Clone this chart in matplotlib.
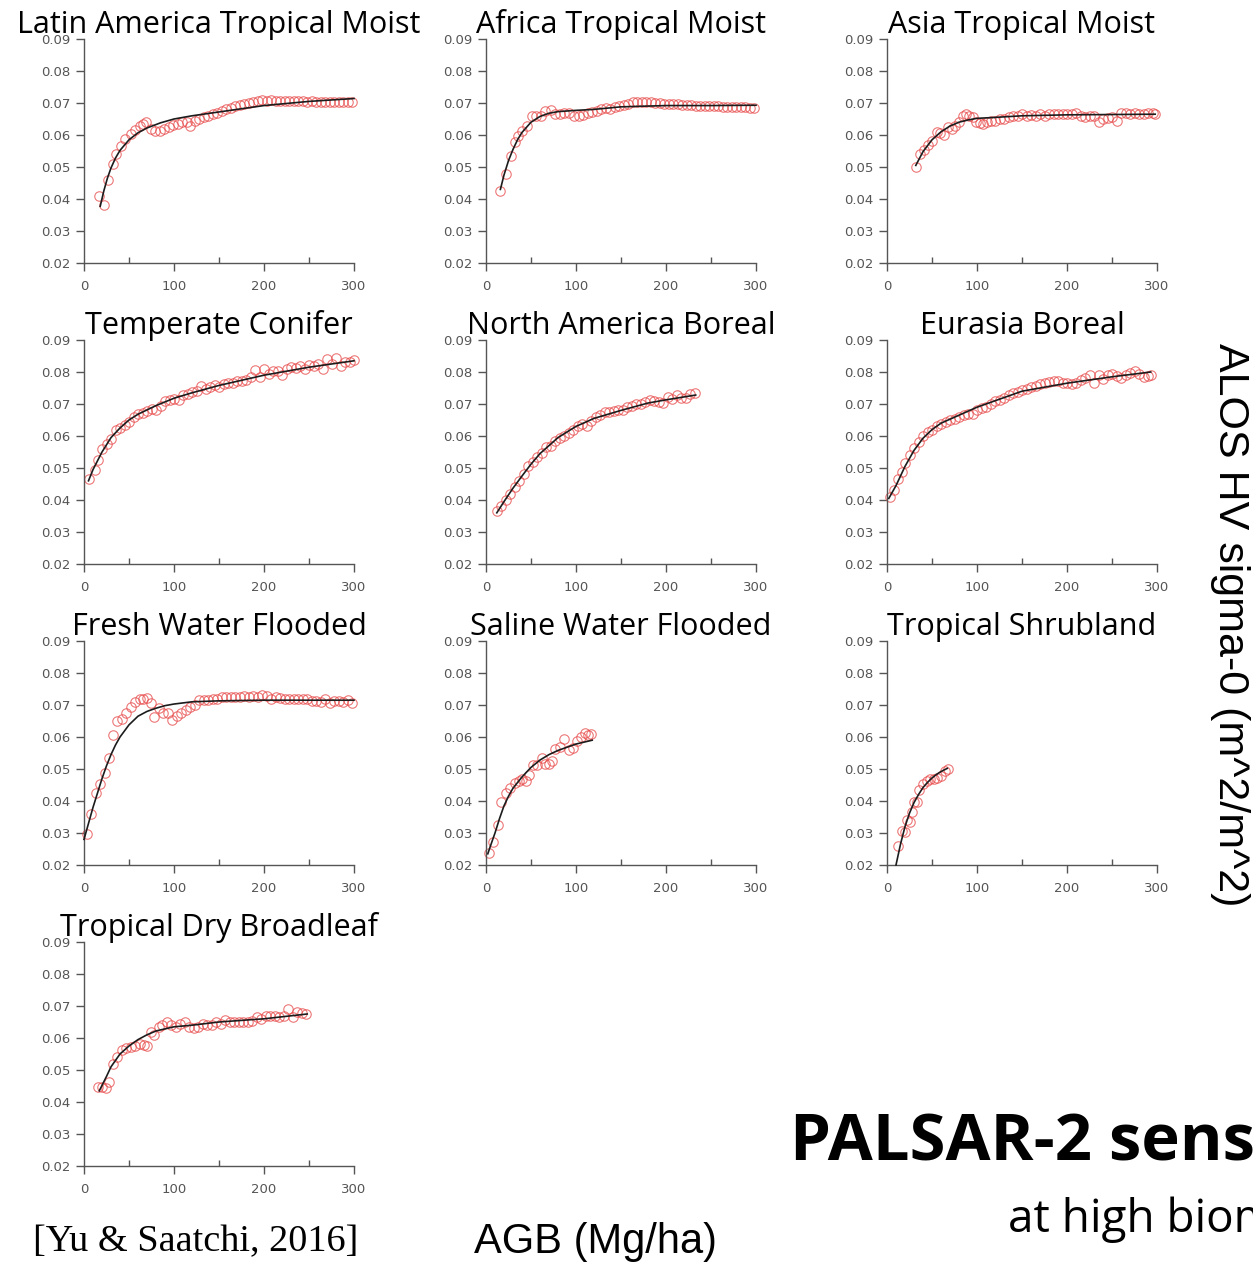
import matplotlib
matplotlib.use("Agg")
import matplotlib.pyplot as plt
from matplotlib.ticker import MultipleLocator

# ---- scatter points (AGB, HV) and fitted curves ----
latam_agb = [17, 22, 27, 32, 36, 41, 46, 52, 57, 62, 66, 69, 74, 79, 84, 89, 94, 99, 104, 109,
             114, 118, 123, 128, 133, 138, 143, 148, 153, 158, 163, 168, 173, 178, 183, 188, 193, 198, 203, 208,
             213, 218, 223, 228, 233, 238, 243, 248, 253, 258, 263, 268, 273, 278, 283, 288, 293, 298]
latam_hv = [0.041, 0.038, 0.046, 0.051, 0.054, 0.0565, 0.0588, 0.0603, 0.0615, 0.0629,
            0.0635, 0.0642, 0.062, 0.0611, 0.0612, 0.0618, 0.0625, 0.063, 0.0635, 0.064,
            0.064, 0.0627, 0.0643, 0.065, 0.0655, 0.066, 0.0665, 0.067, 0.0675, 0.068,
            0.0685, 0.069, 0.0693, 0.0697, 0.070, 0.0703, 0.0707, 0.0708, 0.0707, 0.0708,
            0.0707, 0.0706, 0.0707, 0.0706, 0.0705, 0.0706, 0.0705, 0.0704, 0.0705, 0.0703,
            0.0704, 0.0703, 0.0704, 0.0702, 0.0703, 0.0702, 0.0703, 0.0703]
latam_fit_agb = [18, 22, 26, 30, 35, 40, 50, 60, 70, 85, 100, 120, 150, 200, 250, 300]
latam_fit_hv = [0.0377, 0.0425, 0.0465, 0.0497, 0.0528, 0.0552, 0.0585, 0.0607, 0.0622, 0.0638,
                0.0650, 0.0660, 0.0672, 0.0692, 0.0705, 0.0714]

africa_agb = [16, 22, 28, 32, 36, 40, 46, 51, 56, 61, 66, 72, 77, 82, 87, 92, 98, 103, 108, 113,
              118, 123, 128, 133, 138, 143, 148, 153, 158, 163, 168, 173, 178, 183, 188, 193, 198, 203, 208, 213,
              218, 223, 228, 233, 238, 243, 248, 253, 258, 263, 268, 273, 278, 283, 288, 293, 298]
africa_hv = [0.0424, 0.0479, 0.0533, 0.0577, 0.0596, 0.0611, 0.0627, 0.0658, 0.0658, 0.066,
             0.0674, 0.0679, 0.0666, 0.0665, 0.0668, 0.067, 0.0658, 0.066, 0.0662, 0.0668,
             0.0672, 0.0675, 0.068, 0.0683, 0.0682, 0.0688, 0.069, 0.0695, 0.0698, 0.0702,
             0.0702, 0.0703, 0.0703, 0.0702, 0.070, 0.070, 0.0698, 0.0697, 0.0697, 0.0697,
             0.0695, 0.0695, 0.0693, 0.0692, 0.069, 0.069, 0.069, 0.069, 0.069, 0.0688,
             0.0688, 0.0687, 0.0687, 0.0686, 0.0686, 0.0685, 0.0684]
africa_fit_agb = [16, 20, 25, 30, 35, 40, 50, 60, 70, 80, 100, 120, 150, 200, 250, 300]
africa_fit_hv = [0.043, 0.0475, 0.052, 0.0555, 0.0585, 0.0608, 0.064, 0.0658, 0.0668, 0.0673,
                 0.0677, 0.068, 0.0688, 0.0692, 0.0692, 0.0693]

asia_agb = [32, 37, 41, 45, 50, 55, 59, 63, 68, 72, 76, 80, 84, 88, 91, 95, 99, 103, 107, 111,
            115, 120, 125, 130, 135, 140, 145, 150, 155, 160, 165, 170, 175, 180, 185, 190, 195, 200, 205, 210,
            215, 220, 225, 230, 235, 240, 245, 250, 255, 260, 265, 270, 275, 280, 285, 290, 295, 298]
asia_hv = [0.050, 0.054, 0.0554, 0.057, 0.058, 0.0608, 0.0605, 0.060, 0.0625, 0.0618,
           0.0628, 0.064, 0.066, 0.0665, 0.066, 0.0655, 0.064, 0.0638, 0.0635, 0.064,
           0.0645, 0.0645, 0.065, 0.065, 0.0655, 0.0658, 0.066, 0.0665, 0.066, 0.0662,
           0.066, 0.0667, 0.066, 0.0665, 0.0665, 0.0667, 0.0665, 0.0667, 0.0665, 0.0668,
           0.066, 0.0655, 0.0658, 0.066, 0.0642, 0.065, 0.0652, 0.0655, 0.0645, 0.067,
           0.067, 0.0665, 0.0668, 0.0665, 0.0665, 0.0668, 0.0668, 0.0665]
asia_fit_agb = [32, 40, 50, 60, 70, 80, 90, 100, 120, 150, 200, 250, 298]
asia_fit_hv = [0.0505, 0.0548, 0.0585, 0.061, 0.0628, 0.064, 0.0647, 0.0652, 0.0655, 0.066,
               0.0663, 0.0664, 0.0665]

conifer_agb = [6, 12, 16, 20, 25, 30, 35, 40, 45, 50, 55, 60, 65, 70, 75, 80, 85, 90, 95, 100,
               105, 110, 115, 120, 125, 130, 135, 140, 145, 150, 155, 160, 165, 170, 175, 180, 185, 190, 195, 200,
               205, 210, 215, 220, 225, 230, 235, 240, 245, 250, 255, 260, 265, 270, 275, 280, 285, 290, 295, 300]
conifer_hv = [0.0466, 0.0493, 0.0526, 0.056, 0.0575, 0.059, 0.062, 0.0625, 0.0635, 0.0645,
              0.066, 0.0668, 0.0672, 0.0678, 0.0683, 0.068, 0.0695, 0.0708, 0.0712, 0.0715,
              0.0712, 0.0728, 0.0732, 0.0737, 0.074, 0.0755, 0.0748, 0.0752, 0.0758, 0.0752,
              0.0762, 0.0765, 0.0765, 0.0772, 0.0772, 0.0775, 0.0785, 0.0805, 0.0785, 0.0808,
              0.0795, 0.0802, 0.0802, 0.0792, 0.0808, 0.0815, 0.0812, 0.0818, 0.0808, 0.0822,
              0.0818, 0.0825, 0.081, 0.0842, 0.0825, 0.0845, 0.0818, 0.083, 0.0832, 0.0838]
conifer_fit_agb = [5, 10, 20, 30, 40, 50, 60, 80, 100, 120, 150, 200, 250, 300]
conifer_fit_hv = [0.046, 0.0495, 0.055, 0.0595, 0.0625, 0.065, 0.0668, 0.0695, 0.0718, 0.0735,
                  0.0758, 0.079, 0.0815, 0.0835]

naboreal_agb = [12, 17, 22, 27, 32, 37, 42, 47, 52, 57, 62, 67, 72, 77, 82, 87, 92, 97, 102, 107,
                112, 117, 122, 127, 132, 137, 142, 147, 152, 157, 162, 167, 172, 177, 182, 187, 192, 197, 202, 207,
                212, 217, 222, 227, 232]
naboreal_hv = [0.0365, 0.038, 0.040, 0.042, 0.044, 0.046, 0.048, 0.0505, 0.052, 0.0535,
               0.0548, 0.0565, 0.057, 0.0585, 0.0595, 0.060, 0.061, 0.062, 0.0632, 0.0638,
               0.063, 0.0648, 0.0658, 0.0665, 0.0675, 0.0675, 0.0678, 0.0682, 0.068, 0.069,
               0.0695, 0.070, 0.070, 0.0705, 0.0712, 0.0708, 0.0705, 0.0702, 0.0722, 0.0715,
               0.0728, 0.072, 0.0718, 0.0732, 0.0735]
naboreal_fit_agb = [12, 20, 30, 40, 50, 60, 80, 100, 120, 150, 180, 200, 233]
naboreal_fit_hv = [0.036, 0.0395, 0.0437, 0.0475, 0.0512, 0.0545, 0.0595, 0.063, 0.0655, 0.068,
                   0.0703, 0.0713, 0.0728]

eurasia_agb = [3, 8, 12, 17, 20, 25, 30, 35, 40, 45, 50, 55, 60, 65, 70, 75, 80, 85, 90, 95,
               100, 105, 110, 115, 120, 125, 130, 135, 140, 145, 150, 155, 160, 165, 170, 175, 180, 185, 190, 195,
               200, 205, 210, 215, 220, 225, 230, 235, 240, 245, 250, 255, 260, 265, 270, 275, 280, 285, 290, 293]
eurasia_hv = [0.041, 0.043, 0.0465, 0.0488, 0.0515, 0.054, 0.0562, 0.058, 0.060, 0.0612,
              0.062, 0.063, 0.0638, 0.0645, 0.065, 0.0652, 0.0658, 0.0665, 0.0668, 0.067,
              0.0682, 0.0688, 0.0692, 0.070, 0.0708, 0.0712, 0.072, 0.0728, 0.0735, 0.0738,
              0.0745, 0.0748, 0.0752, 0.0755, 0.0762, 0.0765, 0.0768, 0.0772, 0.0772, 0.0765,
              0.0765, 0.0762, 0.0765, 0.0775, 0.0782, 0.079, 0.0765, 0.079, 0.0778, 0.0792,
              0.0795, 0.0788, 0.0782, 0.0792, 0.0798, 0.0802, 0.0795, 0.0785, 0.0788, 0.0792]
eurasia_fit_agb = [2, 10, 20, 30, 40, 50, 60, 80, 100, 120, 150, 200, 250, 293]
eurasia_fit_hv = [0.0405, 0.0445, 0.0505, 0.0555, 0.0593, 0.062, 0.064, 0.0665, 0.069, 0.071,
                  0.074, 0.0765, 0.0785, 0.080]

fresh_agb = [3, 8, 13, 18, 23, 28, 32, 37, 42, 47, 52, 57, 62, 66, 70, 74, 78, 83, 88, 93,
             98, 103, 108, 113, 118, 123, 128, 133, 138, 143, 148, 153, 158, 163, 168, 173, 178, 183, 188, 193,
             198, 203, 208, 213, 218, 223, 228, 233, 238, 243, 248, 253, 258, 263, 268, 273, 278, 283, 288, 293,
             298]
fresh_hv = [0.0297, 0.0358, 0.0424, 0.0453, 0.0489, 0.0534, 0.0607, 0.0651, 0.0655, 0.0674,
            0.0695, 0.071, 0.0718, 0.072, 0.0722, 0.0705, 0.0664, 0.069, 0.0675, 0.0675,
            0.0653, 0.0665, 0.0675, 0.0685, 0.0695, 0.070, 0.0715, 0.0715, 0.0715, 0.0718,
            0.072, 0.0725, 0.0725, 0.0725, 0.0725, 0.0725, 0.0728, 0.0725, 0.0728, 0.0725,
            0.073, 0.0728, 0.072, 0.0725, 0.0722, 0.072, 0.072, 0.0718, 0.0718, 0.072,
            0.0718, 0.0712, 0.0712, 0.0708, 0.0718, 0.0705, 0.0712, 0.0712, 0.071, 0.0715,
            0.0705]
fresh_fit_agb = [0, 5, 10, 15, 20, 25, 30, 35, 40, 50, 60, 70, 80, 90, 100, 120, 150, 200, 250, 300]
fresh_fit_hv = [0.028, 0.033, 0.038, 0.0425, 0.047, 0.051, 0.0545, 0.0575, 0.060, 0.0638,
                0.0665, 0.068, 0.069, 0.0698, 0.0703, 0.071, 0.0713, 0.0715, 0.0715, 0.0715]

saline_agb = [3, 8, 13, 17, 22, 27, 32, 37, 40, 44, 48, 52, 57, 62, 66, 70, 73, 77, 82, 87,
              92, 97, 101, 105, 110, 113, 117]
saline_hv = [0.0236, 0.0271, 0.0326, 0.0396, 0.0425, 0.0442, 0.0455, 0.0462, 0.0468, 0.0462,
             0.0482, 0.0512, 0.0512, 0.0535, 0.0515, 0.0515, 0.0525, 0.0562, 0.0568, 0.0595,
             0.0558, 0.0565, 0.0588, 0.060, 0.0612, 0.0605, 0.061]
saline_fit_agb = [2, 6, 10, 15, 20, 25, 30, 40, 50, 60, 70, 80, 90, 100, 118]
saline_fit_hv = [0.0235, 0.0268, 0.030, 0.0345, 0.0385, 0.0415, 0.044, 0.0475, 0.0505, 0.0528,
                 0.0545, 0.0558, 0.0568, 0.0578, 0.059]

shrub_agb = [12, 17, 20, 22, 25, 28, 30, 33, 36, 40, 44, 48, 52, 56, 60, 64, 68]
shrub_hv = [0.0258, 0.0305, 0.0302, 0.034, 0.0335, 0.0365, 0.0398, 0.0398, 0.0435, 0.0453,
            0.0462, 0.047, 0.0468, 0.0472, 0.0478, 0.0495, 0.050]
shrub_fit_agb = [10, 15, 20, 25, 30, 35, 40, 45, 50, 55, 60, 67]
shrub_fit_hv = [0.020, 0.0265, 0.032, 0.0362, 0.0395, 0.042, 0.0442, 0.0458, 0.0472, 0.0483,
                0.0492, 0.0502]

drybl_agb = [15, 20, 24, 28, 32, 37, 42, 47, 52, 57, 62, 67, 70, 74, 78, 83, 87, 92, 97, 102,
             107, 112, 117, 122, 127, 132, 137, 142, 147, 152, 157, 162, 167, 172, 177, 182, 187, 192, 197, 202,
             207, 212, 217, 222, 227, 232, 237, 242, 247]
drybl_hv = [0.0448, 0.0448, 0.0445, 0.0462, 0.0518, 0.054, 0.0562, 0.0568, 0.0572, 0.0575,
            0.058, 0.0578, 0.0575, 0.062, 0.061, 0.0635, 0.064, 0.065, 0.064, 0.0635,
            0.0645, 0.065, 0.0635, 0.063, 0.0635, 0.0645, 0.064, 0.064, 0.065, 0.0645,
            0.0655, 0.065, 0.065, 0.065, 0.065, 0.065, 0.0652, 0.0665, 0.066, 0.067,
            0.067, 0.0668, 0.0665, 0.067, 0.0692, 0.0665, 0.068, 0.0678, 0.0675]
drybl_fit_agb = [17, 25, 30, 40, 50, 60, 70, 80, 100, 120, 150, 200, 248]
drybl_fit_hv = [0.0435, 0.048, 0.051, 0.055, 0.0575, 0.0595, 0.061, 0.0622, 0.0635, 0.064,
                0.065, 0.066, 0.0675]

titles = ["Latin America Tropical Moist", "Africa Tropical Moist", "Asia Tropical Moist",
          "Temperate Conifer", "North America Boreal", "Eurasia Boreal",
          "Fresh Water Flooded", "Saline Water Flooded", "Tropical Shrubland",
          "Tropical Dry Broadleaf"]
y_ticks = [0.02, 0.03, 0.04, 0.05, 0.06, 0.07, 0.08, 0.09]
x_ticks = [0, 100, 200, 300]

panels = [
    (latam_agb, latam_hv, latam_fit_agb, latam_fit_hv),
    (africa_agb, africa_hv, africa_fit_agb, africa_fit_hv),
    (asia_agb, asia_hv, asia_fit_agb, asia_fit_hv),
    (conifer_agb, conifer_hv, conifer_fit_agb, conifer_fit_hv),
    (naboreal_agb, naboreal_hv, naboreal_fit_agb, naboreal_fit_hv),
    (eurasia_agb, eurasia_hv, eurasia_fit_agb, eurasia_fit_hv),
    (fresh_agb, fresh_hv, fresh_fit_agb, fresh_fit_hv),
    (saline_agb, saline_hv, saline_fit_agb, saline_fit_hv),
    (shrub_agb, shrub_hv, shrub_fit_agb, shrub_fit_hv),
    (drybl_agb, drybl_hv, drybl_fit_agb, drybl_fit_hv),
]

W, H = 1253, 1264
fig = plt.figure(figsize=(W / 100, H / 100), dpi=100)

col_left = [84, 486, 887]
row_top = [39, 340, 641, 942]
ax_w, ax_h = 270, 224
axis_grey = "#555555"

for i, (xs, ys, fx, fy) in enumerate(panels):
    r, c = divmod(i, 3)
    left = col_left[c] / W
    bottom = 1 - (row_top[r] + ax_h) / H
    ax = fig.add_axes([left, bottom, ax_w / W, ax_h / H])

    ax.plot(xs, ys, linestyle="none", marker="o", markersize=6.8, markerfacecolor="none",
            markeredgecolor="#e84a4a", markeredgewidth=0.8, alpha=0.75, clip_on=False, zorder=2)
    ax.plot(fx, fy, color="#1c1c1c", linewidth=1.2, clip_on=False, zorder=3)

    ax.set_xlim(0, 300)
    ax.set_ylim(0.02, 0.09)
    ax.set_xticks(x_ticks)
    ax.xaxis.set_minor_locator(MultipleLocator(50))
    ax.set_yticks(y_ticks)
    ax.set_yticklabels(["%.2f" % v for v in y_ticks])

    for side in ["top", "right"]:
        ax.spines[side].set_visible(False)
    for side in ["left", "bottom"]:
        ax.spines[side].set_color(axis_grey)
        ax.spines[side].set_linewidth(1.0)

    ax.tick_params(axis="both", which="major", colors=axis_grey, labelsize=9.5,
                   length=6, width=1.0, pad=3.5)
    ax.tick_params(axis="x", which="major", direction="out", pad=6)
    ax.tick_params(axis="x", which="minor", direction="in", length=4, width=1.0, colors=axis_grey)
    for lab in ax.get_xticklabels() + ax.get_yticklabels():
        lab.set_color(axis_grey)

    ax.text(0.5, 1.027, titles[i], transform=ax.transAxes, ha="center", va="baseline",
            fontsize=22, family="Open Sans", color="black")

# shared labels and annotations
fig.text(1230 / W, 1 - 625 / H, "ALOS HV sigma-0 (m^2/m^2)", rotation=270,
         ha="center", va="center", fontsize=31, family="Liberation Sans")
fig.text(595 / W, 1 - 1242 / H, "AGB (Mg/ha)", ha="center", va="center",
         fontsize=30, family="Liberation Sans")
fig.text(33 / W, 1 - 1242 / H, "[Yu & Saatchi, 2016]", ha="left", va="center",
         fontsize=27.5, family="Liberation Serif")
fig.text(790 / W, 1 - 1160 / H, "PALSAR-2 sensitivity", ha="left", va="baseline",
         fontsize=47, family="Open Sans", weight="bold")
fig.text(1008 / W, 1 - 1232 / H, "at high biomass", ha="left", va="baseline",
         fontsize=33, family="Open Sans")

fig.savefig("out.png", dpi=100)
